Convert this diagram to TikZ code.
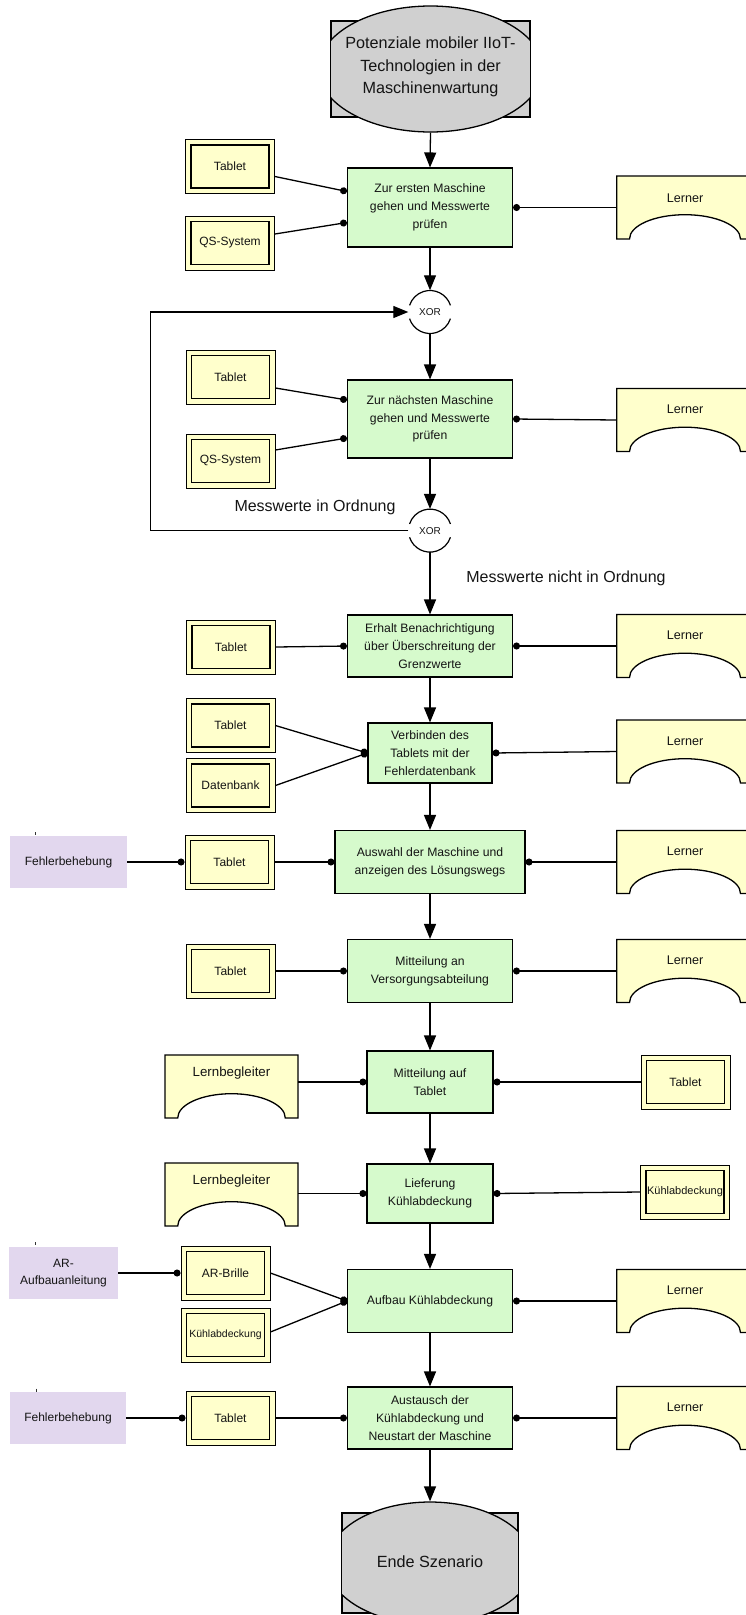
\documentclass[tikz,border=0pt]{standalone}
\usepackage{fontspec}
\setmainfont{Liberation Sans}
\usetikzlibrary{arrows.meta,calc,shapes.geometric}
\definecolor{fngreen}{RGB}{214,250,204}
\definecolor{sysyellow}{RGB}{255,255,204}
\definecolor{roleyellow}{RGB}{255,255,204}
\definecolor{infopurple}{RGB}{226,215,238}
\definecolor{evgray}{RGB}{208,208,208}
\definecolor{txt}{RGB}{20,20,20}

\newcommand\sysbox[5][12]{%
  \node[sysnode, font=\fontsize{#1}{14}\selectfont] (#2) at (#3,#4) {#5};
  \draw[line width=1.3pt] ([shift={(6pt,-6pt)}]#2.north west) rectangle ([shift={(-6pt,6pt)}]#2.south east);
}
\newcommand\rolebox[7]{% name, cx, cy, width, text, text offset, font size
  \node[rolenode, minimum width=#4pt] (#1) at (#2,#3) {};
  \draw[roleshape] (#1.north west) -- (#1.north east) -- (#1.south east) -- ([xshift=-12.7pt]#1.south east)
     arc[start angle=0,end angle=180,x radius={(#4-25.4)/2*1pt},y radius=24.3pt] -- (#1.south west) -- cycle;
  \node[roletext, font=\fontsize{#7}{15}\selectfont] at ([yshift=-#6pt]#1.north) {#5};
}
\newcommand\eventshape[7]{% name, cx, cy, rectw, recth, ellw, ellh
  \node[evrect, minimum width=#4pt, minimum height=#5pt] (#1) at (#2,#3) {};
  \begin{scope}
    \clip ([yshift=100pt]#1.north west) rectangle ([yshift=-100pt]#1.south east);
    \node[evell, minimum width=#6pt, minimum height=#7pt] (#1E) at (#2,#3) {};
  \end{scope}
  \draw[line width=1.3pt] (#1.north west) -- (#1.south west) (#1.north east) -- (#1.south east);
}
\newcommand\xorgate[3]{%
  \node[xornode] (#1) at (#2,#3) {XOR};
  \draw[line width=1.2pt] ([shift={(18:21.5pt)}]#1.center) arc[start angle=18,end angle=162,radius=21.5pt];
  \draw[line width=1.2pt] ([shift={(198:21.5pt)}]#1.center) arc[start angle=198,end angle=342,radius=21.5pt];
}

\begin{document}
\begin{tikzpicture}[x=1pt,y=-1pt,
  conn/.style={line width=1.3pt, draw=black},
  arr/.style={conn, -{Triangle[width=12pt,length=15pt]}},
  dotend/.style={conn, -{Circle[length=7pt]}},
  dotstart/.style={conn, {Circle[length=7pt]}-},
  fn/.style={draw=black, line width=1.1pt, fill=fngreen, align=center, inner sep=0pt, text=txt,
     font=\fontsize{12.2}{17.7}\selectfont},
  sysnode/.style={draw=black, line width=0.9pt, fill=sysyellow, minimum width=89pt, minimum height=54pt,
     inner sep=0pt, text=txt},
  infobox/.style={fill=infopurple, inner sep=0pt, align=center, text=txt, minimum height=52pt,
     font=\fontsize{12}{16.7}\selectfont},
  rolenode/.style={minimum height=63pt, inner sep=0pt, outer sep=0pt},
  roleshape/.style={draw=black, line width=1.3pt, fill=roleyellow},
  roletext/.style={text=txt},
  evrect/.style={draw=black, line width=1.3pt, fill=evgray, inner sep=0pt},
  evell/.style={ellipse, draw=black, line width=1.3pt, fill=evgray, inner sep=0pt},
  evtext/.style={text=txt, align=center, font=\fontsize{16.2}{22.5}\selectfont},
  xornode/.style={circle, minimum size=43pt, inner sep=0pt, text=txt, font=\fontsize{10}{12}\selectfont},
  lbl/.style={text=txt, font=\fontsize{16}{19}\selectfont}
]
\useasboundingbox (0,0) rectangle (746,1615);
\clip (0,0) rectangle (746,1615);

% start event
\eventshape{start}{430.5}{69}{199}{96}{224}{126}
\node[evtext] (startT) at (430.5,67) {Potenziale mobiler IIoT-\\Technologien in der\\Maschinenwartung};

% functions
\node[fn, minimum width=165pt, minimum height=79pt] (f1) at (430,207.5) {Zur ersten Maschine\\gehen und Messwerte\\prüfen};
\xorgate{x1}{430}{312}
\node[fn, minimum width=165pt, minimum height=78pt] (f2) at (430,419) {Zur nächsten Maschine\\gehen und Messwerte\\prüfen};
\xorgate{x2}{430}{530.6}
\node[fn, minimum width=165pt, minimum height=62pt] (f3) at (430,646) {Erhalt Benachrichtigung\\über Überschreitung der\\Grenzwerte};
\node[fn, minimum width=124pt, minimum height=60pt] (f4) at (430,753) {Verbinden des\\Tablets mit der\\Fehlerdatenbank};
\node[fn, minimum width=190pt, minimum height=63pt] (f5) at (430,862) {Auswahl der Maschine und\\anzeigen des Lösungswegs};
\node[fn, minimum width=165pt, minimum height=63pt] (f6) at (430,971) {Mitteilung an\\Versorgungsabteilung};
\node[fn, minimum width=126pt, minimum height=62pt] (f7) at (430,1082) {Mitteilung auf\\Tablet};
\node[fn, minimum width=126pt, minimum height=59pt] (f8) at (430,1193.5) {Lieferung\\Kühlabdeckung};
\node[fn, minimum width=165pt, minimum height=63pt] (f9) at (430,1301) {Aufbau Kühlabdeckung};
\node[fn, minimum width=165pt, minimum height=62pt] (f10) at (430,1418) {Austausch der\\Kühlabdeckung und\\Neustart der Maschine};

% end event
\eventshape{end}{430}{1563}{176}{100}{206}{122}
\node[evtext] (endT) at (430,1562) {Ende Szenario};

% systems
\sysbox{t1}{230}{166.5}{Tablet}
\sysbox{q1}{230}{243}{QS-System}
\sysbox{t2}{230.5}{377}{Tablet}
\sysbox{q2}{230.5}{461}{QS-System}
\sysbox{t3}{231}{647}{Tablet}
\sysbox{t4}{230.5}{725.5}{Tablet}
\sysbox{db}{230.5}{785.5}{Datenbank}
\sysbox{t5}{229.5}{862}{Tablet}
\sysbox{t6}{230.5}{971}{Tablet}
\sysbox{t7}{685.5}{1082}{Tablet}
\sysbox[11]{kr}{685}{1192}{Kühlabdeckung}
\sysbox{ar}{225.5}{1273}{AR-Brille}
\sysbox[10.5]{kl}{225.5}{1335}{Kühlabdeckung}
\sysbox{t10}{230.5}{1418}{Tablet}

% roles
\rolebox{l1}{685}{207.5}{136.4}{Lerner}{22}{12.6}
\rolebox{l2}{685}{420}{136.4}{Lerner}{21}{12.6}
\rolebox{l3}{685}{646}{136.4}{Lerner}{21}{12.6}
\rolebox{l4}{685}{751.5}{136.4}{Lerner}{21}{12.6}
\rolebox{l5}{685}{862}{136.4}{Lerner}{21}{12.6}
\rolebox{l6}{685}{971}{136.4}{Lerner}{21}{12.6}
\rolebox{l9}{685}{1301}{136.4}{Lerner}{21}{12.6}
\rolebox{l10}{685}{1418}{136.4}{Lerner}{21}{12.6}
\rolebox{lb1}{231.5}{1086.5}{133}{Lernbegleiter}{18}{13.3}
\rolebox{lb2}{231.5}{1194.5}{133}{Lernbegleiter}{18}{13.3}

% information objects
\node[infobox, minimum width=117pt] (fb1) at (68.5,862) {Fehlerbehebung};
\node[infobox, minimum width=109pt] (ara) at (63.5,1273) {AR-\\Aufbauanleitung};
\node[infobox, minimum width=116pt] (fb2) at (68,1418) {Fehlerbehebung};
\draw[line width=0.9pt, black!80] (35,832) -- (35,835);
\draw[line width=0.9pt, black!80] (35,1242) -- (35,1245);
\draw[line width=0.9pt, black!80] (36,1388.5) -- (36,1391.5);

% labels
\node[lbl] (lab1) at (315,507) {Messwerte in Ordnung};
\node[lbl] (lab2) at (566,578) {Messwerte nicht in Ordnung};

% control flow
\draw[arr] (startE.south) -- (f1.north);
\draw[arr] (f1.south) -- (x1.north);
\draw[arr] (x1.south) -- (f2.north);
\draw[arr] (f2.south) -- (x2.north);
\draw[arr] (x2.south) -- (f3.north);
\draw[arr] (x2.west) -- ++(-258pt,0pt) |- (x1.west);
\draw[arr] (f3.south) -- (f4.north);
\draw[arr] (f4.south) -- (f5.north);
\draw[arr] (f5.south) -- (f6.north);
\draw[arr] (f6.south) -- (f7.north);
\draw[arr] (f7.south) -- (f8.north);
\draw[arr] (f8.south) -- (f9.north);
\draw[arr] (f9.south) -- (f10.north);
\draw[arr] (f10.south) -- (endE.north);

% left connectors
\draw[dotend] ([yshift=-10pt]t1.east) -- ([yshift=16pt]f1.west);
\draw[dotend] ([yshift=9pt]q1.east) -- ([yshift=-15pt]f1.west);
\draw[dotend] ([yshift=-11pt]t2.east) -- ([yshift=19pt]f2.west);
\draw[dotend] ([yshift=11pt]q2.east) -- ([yshift=-19pt]f2.west);
\draw[dotend] (t3.east) -- (f3.west);
\draw[dotend] (t4.east) -- (f4.west);
\draw[dotend] (db.east) -- (f4.west);
\draw[dotend] (t5.east) -- (f5.west);
\draw[dotend] (fb1.east) -- (t5.west);
\draw[dotend] (t6.east) -- (f6.west);
\draw[dotend] (lb1.east |- f7.west) -- (f7.west);
\draw[dotend] (lb2.east |- f8.west) -- (f8.west);
\draw[dotend] (ara.east) -- (ar.west);
\draw[dotend] (ar.east) -- (f9.west);
\draw[dotend] ([yshift=3pt]kl.east) -- (f9.west);
\draw[dotend] (t10.east) -- (f10.west);
\draw[dotend] (fb2.east) -- (t10.west);

% right connectors
\draw[dotstart] (f1.east) -- (l1.west);
\draw[dotstart] (f2.east) -- (l2.west);
\draw[dotstart] (f3.east) -- (l3.west);
\draw[dotstart] (f4.east) -- (l4.west);
\draw[dotstart] (f5.east) -- (l5.west);
\draw[dotstart] (f6.east) -- (l6.west);
\draw[dotstart] (f7.east) -- (t7.west);
\draw[dotstart] (f8.east) -- (kr.west);
\draw[dotstart] (f9.east) -- (l9.west);
\draw[dotstart] (f10.east) -- (l10.west);
\end{tikzpicture}
\end{document}
